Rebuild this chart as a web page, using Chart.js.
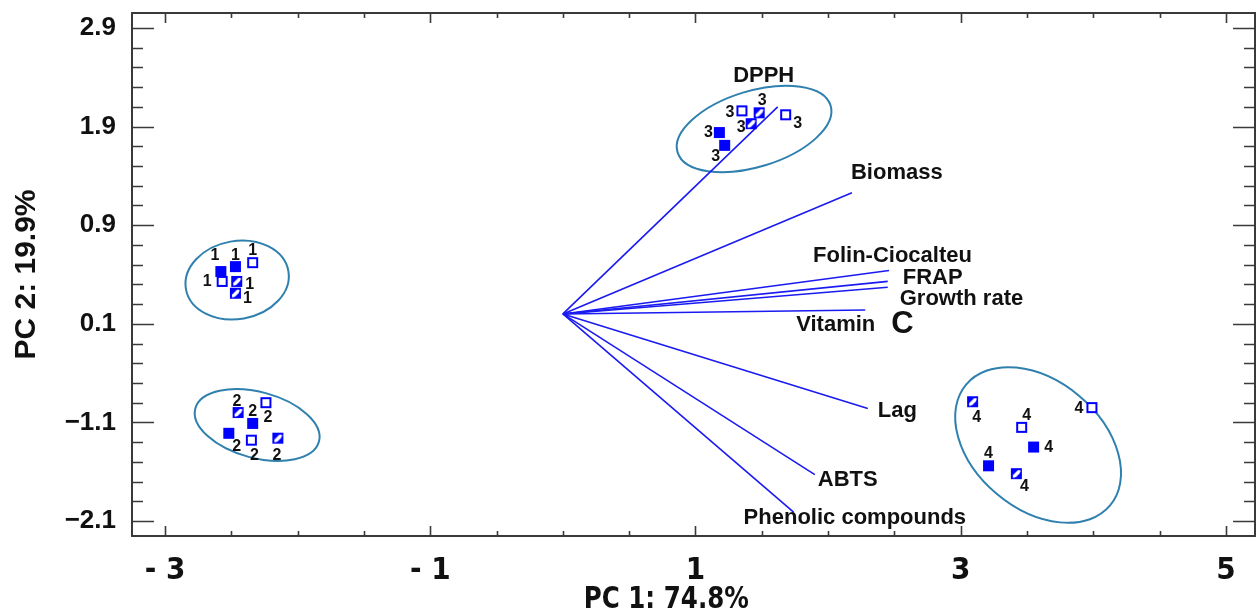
<!DOCTYPE html>
<html><head><meta charset="utf-8">
<script src="https://cdn.jsdelivr.net/npm/chart.js@4.4.1/dist/chart.umd.min.js"></script>
<style>html,body{margin:0;padding:0;background:#fff;}#wrap{width:1256px;height:615px;position:relative;}</style>
</head><body><div id="wrap"><canvas id="c"></canvas></div>
<script>
// ---------------- DATA ----------------
// Sample scores (PC1, PC2); group number and marker type per sample
const sampleGroup = ['1','1','1','1','1','1', '2','2','2','2','2','2', '3','3','3','3','3','3', '4','4','4','4','4','4'];
const sampleType  = ['filled','filled','open','open','hatched','hatched',
                     'hatched','open','filled','filled','open','hatched',
                     'open','hatched','hatched','open','filled','filled',
                     'hatched','open','open','filled','filled','hatched'];
const pc1Score = [-2.58,-2.47,-2.34,-2.57,-2.46,-2.47,  -2.45,-2.24,-2.34,-2.52,-2.35,-2.15,  1.35,1.48,1.42,1.68,1.18,1.22,  3.09,3.99,3.46,3.55,3.21,3.42];
const pc2Score = [0.43,0.48,0.52,0.33,0.33,0.21,  -1.00,-0.90,-1.11,-1.21,-1.28,-1.26,  2.06,2.04,1.93,2.02,1.84,1.71,  -0.89,-0.95,-1.15,-1.35,-1.54,-1.62];

// Loadings (biplot vectors)
const variables = ['DPPH','Biomass','Folin-Ciocalteu','FRAP','Growth rate','Vitamin C','Lag','ABTS','Phenolic compounds'];
const loadPC1 = [1.62, 2.18, 2.46, 2.45, 2.45, 2.28, 2.30, 1.90, 1.74];
const loadPC2 = [2.10, 1.23, 0.44, 0.33, 0.27, 0.04, -0.96, -1.63, -2.01];

// Tick labels
const xMajorTicks  = [-3, -1, 1, 3, 5];
const xMajorLabels = ['- 3', '- 1', '1', '3', '5'];
const yMajorTicks  = [2.9, 1.9, 0.9, -0.1, -1.1, -2.1];
const yMajorLabels = ['2.9', '1.9', '0.9', '0.1', '\u22121.1', '\u22122.1'];
const xTitle = 'PC 1: 74.8%';
const yTitle = 'PC 2: 19.9%';

// ---------------- LAYOUT / STYLE ----------------
const groupLabelOffsets = [[-6,-16],[0,-11],[0,-12],[-15,0],[13,3],[12,5],
  [-1,-11],[2,15],[0,-12],[8,13],[3,15],[-1,17],
  [-12,2],[3,-12],[-10,4],[12,9],[-11,0],[-9,11],
  [4,16],[-13,1],[5,-12],[15,1],[0,-12],[8,13]];
const varLabelPlace = [[-14,-31,'center'],[-1,-20,'left'],[-76,-15,'left'],[15,-3,'left'],[12,12,'left'],[-69,15,'left'],[10,2,'left'],[3,5,'left'],[-50,6,'left']];
const ellipses = [
  {cx:-2.457, cy:0.344, a:52, b:39, rot:-10},
  {cx:-2.306, cy:-1.126, a:64, b:33, rot:15},
  {cx:1.442, cy:1.876, a:80, b:38, rot:-17},
  {cx:3.584, cy:-1.329, a:94, b:64, rot:40}
];
const BLUE = '#0000ff';
const VEC = '#1a1af2';
const ELL = '#2f80ae';
const FRAME = '#3a3a3a';
const BOLD = '"Liberation Sans", Arial, sans-serif';
const NARROW = '"Liberation Sans Narrow", "DejaVu Sans Condensed", sans-serif';

function makeMarker(type){
  const s = 13, c = document.createElement('canvas');
  c.width = s; c.height = s;
  const g = c.getContext('2d');
  if (type === 'filled') { g.fillStyle = BLUE; g.fillRect(1,1,11,11); }
  else {
    g.fillStyle = '#fff'; g.fillRect(1,1,11,11);
    g.strokeStyle = BLUE; g.lineWidth = 2; g.strokeRect(2,2,9,9);
    if (type === 'hatched') {
      g.fillStyle = BLUE;
      g.beginPath(); g.moveTo(5,11); g.lineTo(11,5); g.lineTo(11,11); g.closePath(); g.fill();
      g.beginPath(); g.moveTo(3,8); g.lineTo(8,3); g.lineTo(3,3); g.closePath(); g.fill();
      g.strokeStyle = '#fff'; g.lineWidth = 1.4;
      g.beginPath(); g.moveTo(3.5,10.5); g.lineTo(10.5,3.5); g.stroke();
    }
  }
  return c;
}

const datasets = [];
variables.forEach((v,i)=>{
  datasets.push({label:v, type:'scatter', showLine:true, borderColor:VEC, borderWidth:1.6,
    pointRadius:0, data:[{x:0,y:0},{x:loadPC1[i], y:loadPC2[i]}], order:3});
});
['filled','open','hatched'].forEach(t=>{
  const idx = []; sampleType.forEach((st,i)=>{ if(st===t) idx.push(i); });
  datasets.push({label:t, type:'scatter', sampleIdx:idx, pointStyle:makeMarker(t), pointRadius:6,
    data: idx.map(i=>({x:pc1Score[i], y:pc2Score[i]})), order:1});
});

function findLabel(v, ticks, labels){
  for (let k=0;k<ticks.length;k++) if (Math.abs(ticks[k]-v)<1e-6) return labels[k];
  return '';
}
function noPad(s){ s.paddingTop = 0; s.paddingBottom = 0; s.paddingLeft = 0; s.paddingRight = 0; }

const decor = {
  id:'decor',
  beforeDatasetsDraw(chart){
    const {ctx, scales:{x,y}} = chart;
    ctx.save();
    ctx.strokeStyle = ELL; ctx.lineWidth = 2;
    ellipses.forEach(e=>{
      ctx.beginPath();
      ctx.ellipse(x.getPixelForValue(e.cx), y.getPixelForValue(e.cy), e.a, e.b, e.rot*Math.PI/180, 0, Math.PI*2);
      ctx.stroke();
    });
    ctx.restore();
  },
  afterDatasetsDraw(chart){
    const {ctx} = chart;
    ctx.save();
    ctx.fillStyle = '#111'; ctx.font = 'bold 16px ' + BOLD;
    ctx.textAlign = 'center'; ctx.textBaseline = 'middle';
    chart.data.datasets.forEach((ds,di)=>{
      if (!ds.sampleIdx) return;
      const meta = chart.getDatasetMeta(di);
      meta.data.forEach((pt,k)=>{
        const si = ds.sampleIdx[k], off = groupLabelOffsets[si];
        ctx.fillText(sampleGroup[si], pt.x + off[0], pt.y + off[1]);
      });
    });
    variables.forEach((v,i)=>{
      const tip = chart.getDatasetMeta(i).data[1];
      const p = varLabelPlace[i];
      const tx = tip.x + p[0], ty = tip.y + p[1];
      ctx.textAlign = p[2];
      if (v === 'Vitamin C') {
        ctx.font = 'bold 22px ' + BOLD;
        ctx.textAlign = 'left';
        ctx.fillText('Vitamin', tx, ty);
        const w = ctx.measureText('Vitamin').width;
        ctx.font = 'bold 31px ' + BOLD;
        ctx.fillText('C', tx + w + 16, ty - 1);
      } else {
        ctx.font = 'bold 22px ' + BOLD;
        ctx.fillText(v, tx, ty);
      }
    });
    ctx.restore();
  },
  afterDraw(chart){
    const {ctx, chartArea:a, scales:{x,y}} = chart;
    ctx.save();
    // x-axis title (condensed, offset left of centre as in the reference)
    ctx.save();
    ctx.translate(x.getPixelForValue(0.78), 600);
    ctx.scale(0.88, 1);
    ctx.fillStyle = '#111'; ctx.font = 'bold 31px ' + NARROW;
    ctx.textAlign = 'center'; ctx.textBaseline = 'middle';
    ctx.fillText(xTitle, 0, 0);
    ctx.restore();
    ctx.strokeStyle = FRAME; ctx.lineWidth = 2;
    ctx.strokeRect(a.left, a.top, a.right - a.left, a.bottom - a.top);
    ctx.lineWidth = 1.6;
    ctx.beginPath();
    x.ticks.forEach(t=>{
      const px = Math.round(x.getPixelForValue(t.value)) + 0.5;
      const L = findLabel(t.value, xMajorTicks, xMajorLabels) ? 10 : 5;
      ctx.moveTo(px, a.bottom); ctx.lineTo(px, a.bottom - L);
      ctx.moveTo(px, a.top); ctx.lineTo(px, a.top + L);
    });
    y.ticks.forEach(t=>{
      const py = Math.round(y.getPixelForValue(t.value)) + 0.5;
      const L = findLabel(t.value, yMajorTicks, yMajorLabels) ? 22 : 11;
      ctx.moveTo(a.left, py); ctx.lineTo(a.left + L, py);
      ctx.moveTo(a.right, py); ctx.lineTo(a.right - L, py);
    });
    ctx.stroke();
    ctx.restore();
  }
};

new Chart(document.getElementById('c'), {
  type:'scatter',
  data:{datasets},
  options:{
    responsive:true, maintainAspectRatio:false, animation:false,
    layout:{autoPadding:false, padding:{top:13, right:1, left:0, bottom:0}},
    plugins:{legend:{display:false}, tooltip:{enabled:false}},
    scales:{
      x:{type:'linear', min:-3.25, max:5.22,
        grid:{display:false}, border:{display:false},
        afterBuildTicks(s){ const t=[]; for(let k=0;k<=16;k++) t.push({value: Math.round((-3+0.5*k)*100)/100}); s.ticks=t; },
        afterFit(s){ s.height = 79; noPad(s); },
        ticks:{autoSkip:false, maxRotation:0, padding:8, color:'#111',
          font:{family:NARROW, size:31, weight:'bold'},
          callback:(v)=>findLabel(v, xMajorTicks, xMajorLabels)},
        title:{display:false, text:xTitle}
      },
      y:{type:'linear', min:-2.252, max:3.052,
        grid:{display:false}, border:{display:false},
        afterBuildTicks(s){ const t=[]; for(let k=0;k<=25;k++) t.push({value: Math.round((-2.1+0.2*k)*100)/100}); s.ticks=t; },
        afterFit(s){ s.width = 132; noPad(s); },
        ticks:{autoSkip:false, padding:8, color:'#111',
          font:{family:BOLD, size:26, weight:'bold'},
          callback:(v)=>findLabel(v, yMajorTicks, yMajorLabels)},
        title:{display:true, text:yTitle, color:'#111', padding:{top:9,bottom:0},
          font:{family:BOLD, size:30, weight:'bold', lineHeight:1.2}}
      }
    }
  },
  plugins:[decor]
});
</script></body></html>
